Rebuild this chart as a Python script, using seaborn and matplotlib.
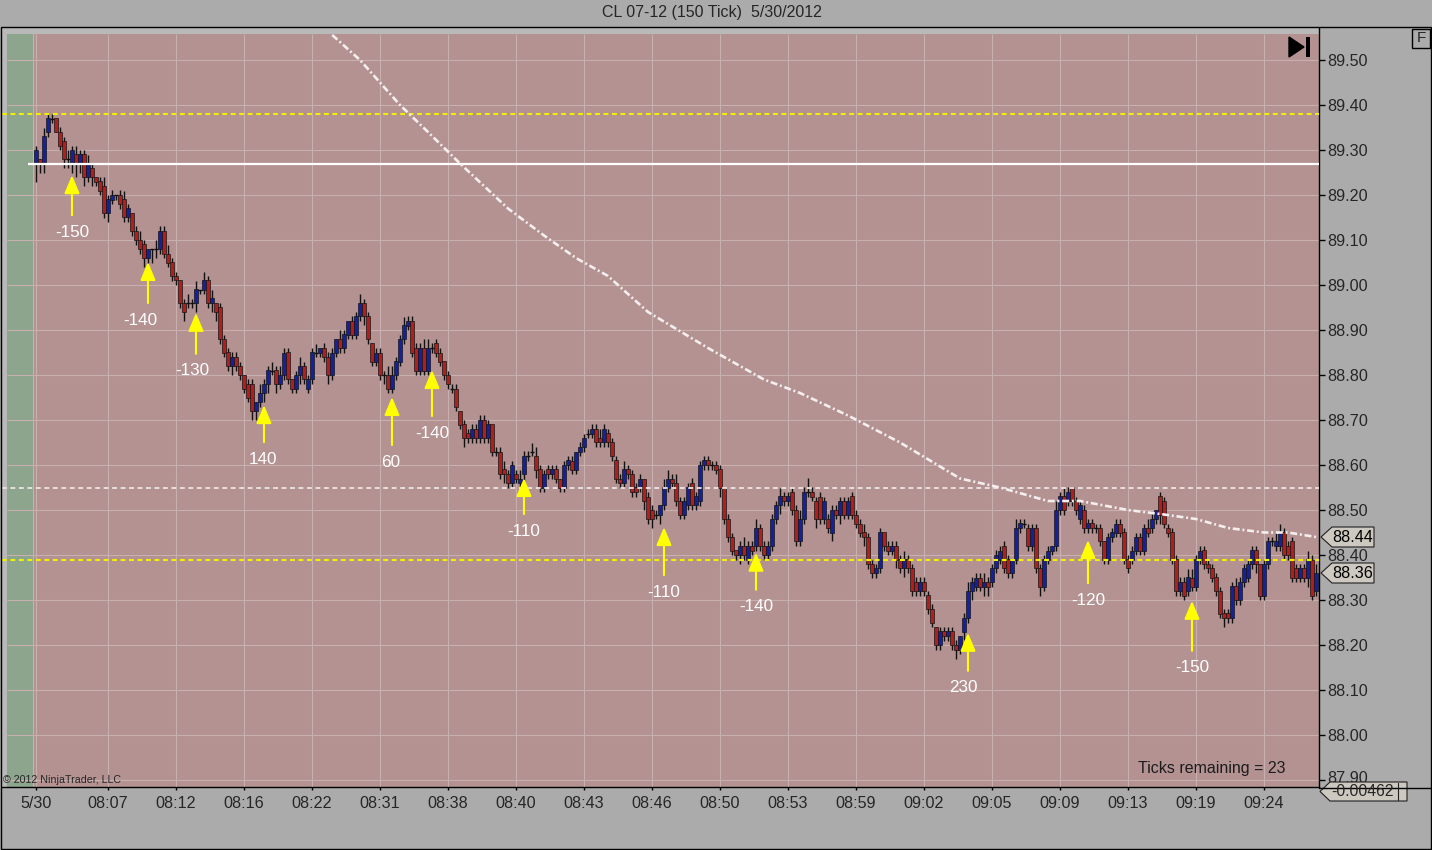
import numpy as np
import pandas as pd
import matplotlib
matplotlib.use("Agg")
import matplotlib.pyplot as plt
import matplotlib.transforms as mtransforms
from matplotlib.patches import Rectangle, Polygon
from matplotlib.lines import Line2D
import seaborn as sns

# 150 tick bars, body open/close in cents above 88.00
opens = [
    127, 128, 127, 134, 137, 137, 134, 132, 128, 127,
    129, 127, 129, 124, 126, 124, 123, 122, 116, 119,
    120, 120, 119, 115, 116, 112, 110, 109, 106, 108,
    108, 108, 112, 107, 105, 102, 101, 96, 96, 96,
    96, 99, 99, 101, 96, 96, 95, 88, 85, 82,
    84, 82, 80, 78, 78, 72, 74, 76, 78, 81,
    81, 78, 80, 85, 79, 77, 80, 82, 77, 79,
    85, 85, 86, 84, 80, 85, 88, 86, 89, 92,
    89, 93, 96, 93, 87, 83, 85, 80, 80, 77,
    80, 83, 88, 91, 92, 86, 81, 86, 81, 86,
    87, 85, 83, 80, 77, 77, 72, 69, 67, 66,
    68, 66, 70, 66, 69, 63, 63, 59, 58, 56,
    58, 56, 58, 62, 63, 62, 59, 55, 59, 58,
    59, 57, 55, 60, 61, 59, 63, 64, 67, 67,
    68, 66, 65, 67, 65, 61, 57, 56, 59, 58,
    55, 55, 57, 53, 50, 49, 49, 51, 55, 57,
    56, 52, 49, 51, 56, 51, 52, 60, 61, 60,
    60, 59, 55, 48, 44, 41, 40, 42, 39, 42,
    42, 46, 42, 40, 42, 48, 51, 53, 52, 54,
    50, 43, 48, 54, 54, 52, 53, 48, 48, 45,
    50, 49, 52, 49, 53, 49, 47, 45, 44, 38,
    36, 37, 45, 42, 41, 42, 39, 37, 39, 37,
    34, 32, 34, 31, 28, 24, 20, 23, 22, 23,
    20, 19, 23, 26, 32, 33, 35, 33, 34, 34,
    37, 39, 42, 39, 36, 39, 46, 47, 46, 42,
    46, 37, 33, 39, 41, 42, 50, 53, 52, 55,
    52, 48, 50, 46, 47, 46, 46, 43, 39, 44,
    45, 47, 45, 39, 39, 41, 44, 41, 46, 46,
    48, 53, 52, 46, 45, 39, 32, 34, 32, 35,
    33, 39, 41, 38, 37, 35, 32, 27, 27, 26,
    33, 30, 34, 35, 38, 41, 38, 31, 38, 43,
    42, 42, 45, 42, 43, 37, 35, 37, 35, 39,
    32,
]
closes = [
    130, 127, 133, 137, 137, 134, 131, 128, 128, 130,
    127, 129, 124, 127, 124, 123, 121, 116, 119, 120,
    120, 118, 115, 117, 112, 110, 108, 106, 108, 108,
    108, 112, 107, 105, 102, 101, 96, 94, 96, 96,
    99, 99, 101, 96, 97, 94, 88, 85, 82, 84,
    82, 80, 77, 75, 72, 74, 76, 78, 81, 81,
    78, 80, 85, 79, 77, 80, 82, 79, 79, 85,
    85, 86, 84, 80, 85, 88, 86, 89, 92, 89,
    93, 96, 93, 88, 83, 85, 80, 80, 77, 80,
    83, 88, 91, 92, 85, 81, 86, 81, 86, 86,
    85, 83, 80, 78, 77, 73, 69, 66, 66, 68,
    66, 70, 66, 69, 63, 63, 58, 58, 56, 60,
    57, 57, 62, 62, 63, 59, 55, 58, 58, 59,
    57, 55, 60, 61, 59, 63, 64, 66, 67, 68,
    65, 65, 68, 65, 62, 57, 56, 59, 58, 54,
    54, 57, 52, 48, 48, 49, 51, 55, 57, 56,
    52, 49, 52, 55, 51, 53, 60, 61, 60, 60,
    59, 55, 48, 44, 41, 40, 42, 40, 42, 41,
    46, 42, 40, 42, 48, 51, 53, 52, 53, 50,
    43, 48, 54, 54, 53, 48, 48, 52, 46, 50,
    49, 52, 49, 52, 49, 47, 45, 44, 38, 36,
    37, 45, 42, 41, 42, 39, 37, 39, 37, 32,
    32, 34, 32, 28, 25, 20, 23, 22, 23, 20,
    19, 22, 26, 32, 34, 35, 33, 34, 33, 37,
    40, 41, 37, 36, 39, 46, 47, 47, 42, 46,
    37, 33, 39, 41, 42, 50, 53, 50, 54, 52,
    50, 51, 46, 47, 46, 46, 43, 39, 44, 45,
    47, 45, 39, 37, 41, 44, 41, 46, 45, 48,
    50, 49, 47, 45, 39, 32, 34, 31, 35, 33,
    39, 41, 38, 37, 35, 32, 27, 26, 26, 33,
    30, 34, 37, 38, 41, 38, 31, 38, 43, 43,
    43, 45, 40, 40, 35, 35, 37, 35, 39, 31,
    36,
]
# wick length above / below the body in cents, one digit per bar
wick_up = "".join([
    "1021101121", "2112101211", "0121012100", "2112110121", "2021201111",
    "1101102112", "1211012111", "2011102101", "1211011122", "1121111221",
    "1101110111", "1111011211", "1211221111", "1011101111", "1211111211",
    "1101110221", "2111111111", "1101101211", "2111112111", "1213111111",
    "1111111211", "1101111211", "1111101111", "1012111211", "1111021111",
    "1111021210", "1111111011", "1111111121", "0111111122", "1111111111",
    "2111110111", "2211111121", "2",
])
wick_dn = "".join([
    "4221101222", "3221211121", "1111111213", "2111111211", "2111221112",
    "1111221221", "2111112111", "1112111111", "1121111211", "1111111111",
    "1111111211", "1111111211", "1121121111", "1111111111", "1111111111",
    "1121212111", "1111111111", "1211112111", "1111112111", "1111121112",
    "1211111211", "1111121211", "1111111111", "2121211221", "1111111111",
    "1211111111", "1111111111", "1111111111", "1211111111", "1111111211",
    "1111121111", "1111111121", "1",
])

tick_bars = [0, 18, 35, 52, 69, 86, 103, 120, 137, 154, 171, 188, 205, 222, 239, 256, 273, 290, 307]
tick_labels = ["5/30", "08:07", "08:12", "08:16", "08:22", "08:31", "08:38", "08:40", "08:43",
               "08:46", "08:50", "08:53", "08:59", "09:02", "09:05", "09:09", "09:13", "09:19", "09:24"]

# moving average
ma_bars = [66, 81, 91, 98, 106, 118, 127, 135, 143, 153, 168, 182, 191, 203, 216, 231,
           241, 253, 261, 273, 282, 290, 298, 307, 313, 320]
ma_values = [89.62, 89.50, 89.40, 89.34, 89.27, 89.17, 89.11, 89.06, 89.02, 88.94, 88.86,
             88.79, 88.76, 88.71, 88.65, 88.57, 88.55, 88.52, 88.52, 88.50, 88.49, 88.48,
             88.46, 88.45, 88.45, 88.44]

arrow_bars = [9, 28, 40, 57, 89, 99, 122, 157, 180, 233, 263, 289]
arrow_tips = [89.244, 89.051, 88.938, 88.733, 88.751, 88.811, 88.571, 88.462, 88.405, 88.227, 88.433, 88.298]
arrow_labels = ["-150", "-140", "-130", "140", "60", "-140", "-110", "-110", "-140", "230", "-120", "-150"]

yellow_levels = [89.38, 88.39]
white_level = 89.27
dashed_level = 88.55
ma_last = 88.44
last_price = 88.36
indicator_text = "-0.00462"
ticks_left = 23

assert len(opens) == len(closes) == len(wick_up) == len(wick_dn)

df = pd.DataFrame({"open": np.array(opens) / 100 + 88, "close": np.array(closes) / 100 + 88})
df["bar"] = np.arange(len(df))
df["high"] = df[["open", "close"]].max(axis=1) + np.array([int(c) for c in wick_up]) / 100
df["low"] = df[["open", "close"]].min(axis=1) - np.array([int(c) for c in wick_dn]) / 100

sns.set_style("white")
plt.rcParams["font.family"] = ["Liberation Sans", "DejaVu Sans"]
plt.rcParams["lines.scale_dashes"] = False

W, H = 1432, 850


def py(px):  # screen row -> price (layout helper)
    return 89.50 - (px - 60) / 450


def bx(px):  # screen column -> bar position (layout helper)
    return (px - 36) / 4


fig = plt.figure(figsize=(W / 100, H / 100), dpi=100, facecolor="#ABABAB")
ax = fig.add_axes([2 / W, 1 - 787 / H, 1317 / W, 759 / H])
ax.set_facecolor("#B9B9B9")
ax.set_xlim(bx(2), bx(1319))
ax.set_ylim(py(787), py(28))

pink = Rectangle((bx(34), py(787)), bx(1319) - bx(34), py(34) - py(787),
                 facecolor="#B49292", edgecolor="none", zorder=0.5)
ax.add_patch(pink)
ax.add_patch(Rectangle((bx(7), py(787)), bx(33) - bx(7), py(34) - py(787),
                       facecolor="#8DA58D", edgecolor="none", zorder=0.5))

yticks = np.round(np.arange(87.90, 89.51, 0.10), 2)
ax.hlines(yticks, bx(7), bx(1319), color="#C9B0B0", lw=0.8, zorder=1)
ax.vlines(tick_bars, py(787), py(34), color="#C9B0B0", lw=0.8, zorder=1)

# candles
ax.vlines(df["bar"], df["low"], df["high"], color="#111111", lw=1, zorder=3)
body = df[df["close"] != df["open"]]
ax.bar(body["bar"], (body["close"] - body["open"]).abs(),
       bottom=body[["open", "close"]].min(axis=1), width=0.8,
       color=np.where(body["close"] > body["open"], "#14209C", "#B01E1E"),
       edgecolor="#151515", lw=0.5, zorder=4)
doji = df[df["close"] == df["open"]]
ax.hlines(doji["close"], doji["bar"] - 0.45, doji["bar"] + 0.45, color="#111111", lw=1, zorder=4)

# levels
for lv in yellow_levels:
    ax.hlines(lv, bx(2), bx(1319), color="#F2F000", lw=1.5, linestyles=(0, (3.5, 2.6)), zorder=5)
ax.hlines(white_level, bx(28), bx(1319), color="#FFFFFF", lw=1.6, zorder=5)
ax.hlines(dashed_level, bx(2), bx(1319), color="#EDE4E4", lw=1.3, linestyles=(0, (3.5, 2.6)), zorder=5)

sns.lineplot(x=ma_bars, y=ma_values, ax=ax, color="#F4EEEE", lw=1.9, zorder=5)
ma_line = ax.lines[-1]
ma_line.set_dashes((5, 2, 1.4, 2))
ma_line.set_clip_path(pink)

# arrows with labels
label_gap = [57, 58, 58, 54, 65, 63, 53, 65, 54, 55, 60, 67]
label_dx = [0, -8, -4, -1, -1, 0, 0, 0, 0, -5, 0, 0]
for b, tip, lab, gap, dx in zip(arrow_bars, arrow_tips, arrow_labels, label_gap, label_dx):
    ax.annotate("", xy=(b, tip), xytext=(0, -(gap - 17)), textcoords="offset pixels",
                arrowprops=dict(arrowstyle="-|>,head_length=1.0,head_width=0.42", color="#FFFF00",
                                lw=1.5, shrinkA=0, shrinkB=0, mutation_scale=11), zorder=6)
    ax.annotate(lab, xy=(b, tip), xytext=(dx, -gap), textcoords="offset pixels",
                ha="center", va="center", color="white", fontsize=12.3, zorder=6)

# axes
ax.set_xticks(tick_bars, tick_labels)
ax.yaxis.tick_right()
ax.set_yticks(yticks, [f"{v:.2f}" for v in yticks])
ax.tick_params(axis="x", bottom=True, length=2.5, width=1, color="black", labelsize=11.6, pad=4)
ax.tick_params(axis="y", right=True, left=False, length=4.5, width=1, color="black", labelsize=11.6, pad=1.5)
for side in ["top", "left"]:
    ax.spines[side].set_visible(False)
for side in ["bottom", "right"]:
    ax.spines[side].set_color("black")
    ax.spines[side].set_linewidth(1)
ax.grid(False)
# lowest price label sits half behind the indicator flag, nudge it up a little
low_lab = ax.get_yticklabels()[0]
low_lab.set_transform(low_lab.get_transform() + mtransforms.ScaledTranslation(0, 3 / 100, fig.dpi_scale_trans))

# price flags on the right axis
yx = mtransforms.blended_transform_factory(fig.transFigure, ax.transData)
for p, txt in [(ma_last, f"{ma_last:.2f}"), (last_price, f"{last_price:.2f}")]:
    h = 10 / 450
    pts = [(1321 / W, p), (1332 / W, p + h), (1374 / W, p + h), (1374 / W, p - h), (1332 / W, p - h)]
    fig.add_artist(Polygon(pts, closed=True, transform=yx, facecolor="#CDC9C0", edgecolor="#202020", lw=0.8))
    fig.text(1353 / W, p, txt, transform=yx, ha="center", va="center", fontsize=11.6, color="black")

# indicator flag below the price axis
pts = [(1320 / W, 1 - 791.5 / H), (1330 / W, 1 - 782 / H), (1407 / W, 1 - 782 / H),
       (1407 / W, 1 - 801 / H), (1330 / W, 1 - 801 / H)]
fig.add_artist(Polygon(pts, closed=True, transform=fig.transFigure, facecolor="#CDC9C0",
                       edgecolor="#202020", lw=0.8))
fig.add_artist(Line2D([1319 / W, 1432 / W], [1 - 788 / H, 1 - 788 / H], transform=fig.transFigure,
                      color="black", lw=1))
fig.add_artist(Line2D([1398 / W, 1398 / W], [1 - 783 / H, 1 - 800 / H], transform=fig.transFigure,
                      color="#202020", lw=0.8))
fig.text(1362 / W, 1 - 792 / H, indicator_text, ha="center", va="center", fontsize=11.3)

# decorations
fig.text(712 / W, 1 - 13 / H, "CL 07-12 (150 Tick)  5/30/2012", ha="center", va="center", fontsize=11.5)
fig.text(3 / W, 1 - 780 / H, "\u00a9 2012 NinjaTrader, LLC", ha="left", va="center", fontsize=7.7)
fig.text(1285 / W, 1 - 768 / H, f"Ticks remaining = {ticks_left}", ha="right", va="center",
         fontsize=11.5, color="#1C1C1C")
fig.add_artist(Rectangle((1412 / W, 1 - 48 / H), 18 / W, 19 / H, transform=fig.transFigure,
                         fill=False, edgecolor="black", lw=1))
fig.text(1421 / W, 1 - 38.5 / H, "F", ha="center", va="center", fontsize=11)
fig.add_artist(Polygon([(1289 / W, 1 - 37 / H), (1289 / W, 1 - 57 / H), (1304 / W, 1 - 47 / H)],
                       closed=True, transform=fig.transFigure, facecolor="black", edgecolor="black"))
fig.add_artist(Rectangle((1306 / W, 1 - 57 / H), 4 / W, 20 / H, transform=fig.transFigure,
                         facecolor="black", edgecolor="none"))
fig.add_artist(Rectangle((1 / W, 1 / H), 1430 / W, 822 / H, transform=fig.transFigure,
                         fill=False, edgecolor="black", lw=1))

fig.savefig("out.png", dpi=100, facecolor=fig.get_facecolor())
